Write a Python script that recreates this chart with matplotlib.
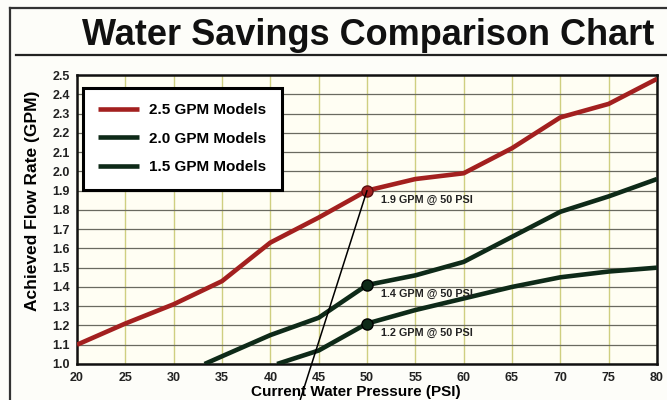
import matplotlib
matplotlib.use("Agg")
import matplotlib.pyplot as plt
from matplotlib.lines import Line2D

plt.rcParams['font.family'] = ['Liberation Sans', 'DejaVu Sans']

# pressure (PSI) and flow (GPM)
psi_25 = [20, 25, 30, 35, 40, 45, 50, 55, 60, 65, 70, 75, 80]
gpm_25 = [1.10, 1.21, 1.31, 1.43, 1.63, 1.76, 1.90, 1.96, 1.99, 2.12, 2.28, 2.35, 2.48]

psi_20 = [33.2, 35, 40, 45, 50, 55, 60, 65, 70, 75, 80]
gpm_20 = [1.00, 1.04, 1.15, 1.24, 1.41, 1.46, 1.53, 1.66, 1.79, 1.87, 1.96]

psi_15 = [40.7, 45, 50, 55, 60, 65, 70, 75, 80]
gpm_15 = [1.00, 1.07, 1.21, 1.28, 1.34, 1.40, 1.45, 1.48, 1.50]

labels = ['2.5 GPM Models', '2.0 GPM Models', '1.5 GPM Models']
callouts = [(50, 1.90, '1.9 GPM @ 50 PSI'),
            (50, 1.41, '1.4 GPM @ 50 PSI'),
            (50, 1.21, '1.2 GPM @ 50 PSI')]
x_ticks = list(range(20, 85, 5))
y_ticks = [round(1.0 + 0.1 * i, 1) for i in range(16)]

red = '#a3201f'
green = '#0e2a18'

fig = plt.figure(figsize=(6.67, 4.0), dpi=100, facecolor='#fdfdf9')
ax = fig.add_axes([0.1154, 0.09, 0.8696, 0.7225])
ax.set_facecolor('#fffef3')

ax.plot(psi_25, gpm_25, color=red, lw=3.3, solid_capstyle='butt', label=labels[0], zorder=3)
ax.plot(psi_20, gpm_20, color=green, lw=3.3, solid_capstyle='butt', label=labels[1], zorder=3)
ax.plot(psi_15, gpm_15, color=green, lw=3.3, solid_capstyle='butt', label=labels[2], zorder=3)

mcols = [red, green, green]
for (x, y, txt), c in zip(callouts, mcols):
    ax.plot(x, y, 'o', ms=8, color=c, mec='#5a1010' if c == red else 'black', zorder=4)
    ax.annotate(txt, xy=(x, y), xytext=(10, -6.5), textcoords='offset points',
                fontsize=7.8, fontweight='bold', va='center', ha='left', color='#222222')

ax.set_xlim(20, 80)
ax.set_ylim(1.0, 2.5)
ax.set_xticks(x_ticks)
ax.set_yticks(y_ticks)
ax.set_yticklabels([f'{v:.1f}' for v in y_ticks])
ax.tick_params(length=0, labelsize=9, pad=5)
for lab in ax.get_xticklabels() + ax.get_yticklabels():
    lab.set_fontweight('bold')
    lab.set_color('#222222')
ax.tick_params(axis='x', pad=6)

ax.grid(axis='y', color='#6a6a60', lw=0.9)
ax.grid(axis='x', color='#cfcf80', lw=1.0)
for s in ax.spines.values():
    s.set_linewidth(1.8)
    s.set_color('#111111')

ax.set_ylabel('Achieved Flow Rate (GPM)', fontsize=12.5, fontweight='bold')
ax.yaxis.set_label_coords(-0.064, 0.565)
ax.set_xlabel('Current Water Pressure (PSI)', fontsize=11, fontweight='bold')
ax.xaxis.set_label_coords(0.48, -0.073)

leg = ax.legend(loc='upper left', bbox_to_anchor=(0.01, 0.955), borderaxespad=0,
                fancybox=False, framealpha=1, edgecolor='black', handlelength=2.7,
                handletextpad=0.65, labelspacing=0.95, borderpad=1.0,
                prop={'weight': 'bold', 'size': 11})
leg.get_frame().set_linewidth(2.2)
leg.set_zorder(5)

# pointer line from the 2.5 GPM callout down past the axis label
ax.annotate('', xy=(50, 1.90), xytext=(0.45, 0.0), textcoords='figure fraction',
            arrowprops=dict(arrowstyle='-', color='black', lw=1.1, shrinkA=0, shrinkB=0),
            annotation_clip=False, zorder=6)

fig.text(0.552, 0.912, 'Water Savings Comparison Chart', fontsize=26, fontweight='bold',
         ha='center', va='center', color='#111111')

# page frame lines
fig.add_artist(Line2D([0.015, 1.0], [0.98, 0.98], color='#333333', lw=1.6))
fig.add_artist(Line2D([0.015, 0.015], [0.0, 0.98], color='#333333', lw=1.6))
fig.add_artist(Line2D([0.024, 1.0], [0.862, 0.862], color='#222222', lw=1.6))

fig.savefig('out.png', dpi=100, facecolor=fig.get_facecolor())
